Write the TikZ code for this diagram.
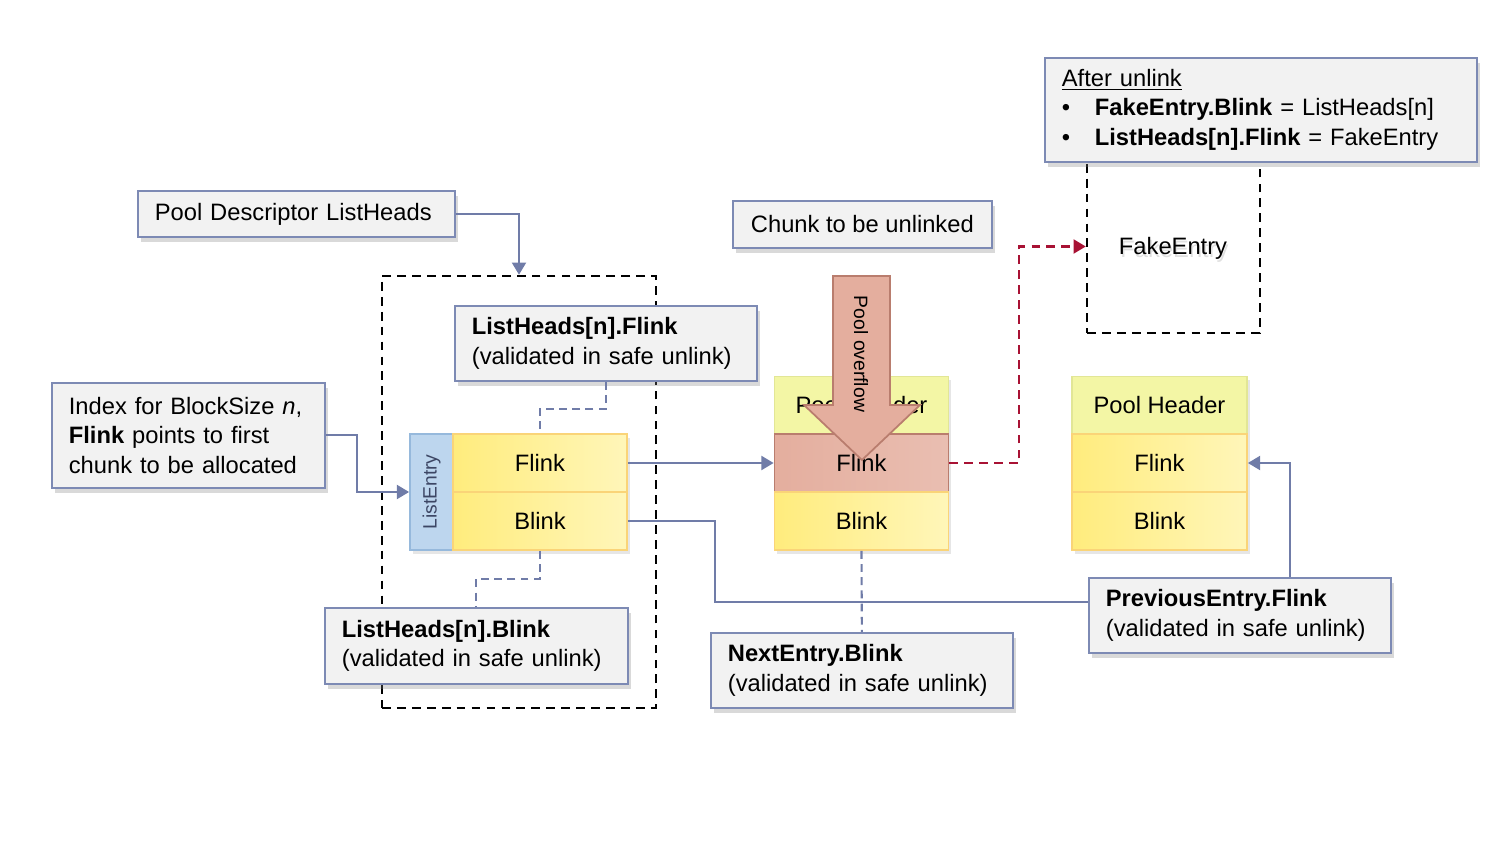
\documentclass[tikz,border=0pt]{standalone}
\usepackage{fontspec}
\setmainfont{Liberation Sans}
\usetikzlibrary{arrows.meta, calc, shadows}
\definecolor{notebg}{RGB}{242,242,242}
\definecolor{notebd}{RGB}{125,138,180}
\definecolor{linkc}{RGB}{112,124,168}
\definecolor{cellA}{RGB}{255,236,125}
\definecolor{cellB}{RGB}{255,246,185}
\definecolor{cellbd}{RGB}{250,212,120}
\definecolor{hdr}{RGB}{243,246,165}
\definecolor{hdrbd}{RGB}{226,230,150}
\definecolor{entrybg}{RGB}{189,214,238}
\definecolor{entrybd}{RGB}{150,185,220}
\definecolor{entrytxt}{RGB}{60,70,100}
\definecolor{ovf}{RGB}{228,174,158}
\definecolor{ovfbd}{RGB}{185,125,110}
\definecolor{redlink}{RGB}{168,18,52}

\begin{document}
\begin{tikzpicture}[x=0.02cm, y=-0.02cm,
    font=\fontsize{13.5}{16.9}\selectfont,
    note/.style={draw=notebd, fill=notebg, line width=1pt, anchor=north west, align=left,
        inner xsep=0.34cm, inner ysep=0pt,
        drop shadow={opacity=0.3, shadow xshift=2pt, shadow yshift=-3pt}},
    cell/.style={draw=cellbd, line width=1pt, left color=cellA, right color=cellB,
        minimum width=3.48cm, minimum height=1.16cm, inner sep=0pt,
        drop shadow={opacity=0.2, shadow xshift=1.5pt, shadow yshift=-2pt}},
    hdrcell/.style={cell, left color=hdr, right color=hdr, draw=hdrbd},
    frame/.style={draw=black, line width=1.4pt, dash pattern=on 5pt off 3.5pt},
    link/.style={draw=linkc, line width=1.2pt},
    dlink/.style={link, dash pattern=on 4.5pt off 3pt},
    tip/.style={-{Triangle[length=7pt,width=8pt]}},
]
    \useasboundingbox (0,0) rectangle (1511,858);

    % ListHeads region
    \node[frame, minimum width=5.48cm, minimum height=8.64cm, inner sep=0pt] (heads) at (519,492) {};

    \node[note, text width=5.66cm, minimum height=0.92cm] (desc) at (137,190) {Pool Descriptor ListHeads};
    \node[note, text width=5.36cm, minimum height=1.5cm] (lhflink) at (454,305) {\textbf{ListHeads[n].Flink}\\(validated in safe unlink)};
    \node[note, text width=4.78cm, minimum height=2.1cm] (index) at (51,382) {Index for BlockSize \textit{n},\\\textbf{Flink} points to first\\chunk to be allocated};
    \node[note, text width=5.38cm, minimum height=1.52cm] (lhblink) at (324,607) {\textbf{ListHeads[n].Blink}\\(validated in safe unlink)};
    \node[note, text width=5.36cm, minimum height=1.5cm] (nextblink) at (710,632) {\textbf{NextEntry.Blink}\\(validated in safe unlink)};
    \node[note, text width=5.36cm, minimum height=1.5cm] (prevflink) at (1088,577) {\textbf{PreviousEntry.Flink}\\(validated in safe unlink)};
    \node[note, minimum width=5.18cm, minimum height=0.94cm] (chunk) at (732,200) {Chunk to be unlinked};

    % list entry
    \node[draw=entrybd, fill=entrybg, line width=1pt, minimum width=0.86cm, minimum height=2.32cm, inner sep=0pt,
        drop shadow={opacity=0.2, shadow xshift=1.5pt, shadow yshift=-2pt}] (entry) at (431.5,492) {};
    \node[rotate=90, text=entrytxt, font=\fontsize{11}{13}\selectfont] at (entry) {ListEntry};
    \node[cell] (lflink) at (540,463) {Flink};
    \node[cell] (lblink) at (540,521) {Blink};

    % chunk to be unlinked
    \node[hdrcell] (phdr) at (861.5,405.5) {Pool Header};
    \node[cell, left color=ovf, right color=ovf!80, draw=ovfbd] (cflink) at (861.5,463) {Flink};
    \node[cell] (cblink) at (861.5,521) {Blink};

    % next chunk
    \node[hdrcell, minimum width=3.5cm] (rphdr) at (1159.5,405.5) {Pool Header};
    \node[cell, minimum width=3.5cm] (rflink) at (1159.5,463) {Flink};
    \node[cell, minimum width=3.5cm] (rblink) at (1159.5,521) {Blink};

    % fake entry
    \node[frame, minimum width=3.46cm, minimum height=3.46cm, inner sep=0pt] (fake) at (1173.5,246.5) {};
    \node[text=black!12] at (1174.5,251) {FakeEntry};
    \node (fakelbl) at (1173,248) {FakeEntry};
    \node[note, text width=7.96cm, minimum height=2.08cm] (after) at (1044,57)
        {\underline{After unlink}\\
         \makebox[0.66cm][l]{\textbullet}\textbf{FakeEntry.Blink} = ListHeads[n]\\
         \makebox[0.66cm][l]{\textbullet}\textbf{ListHeads[n].Flink} = FakeEntry};

    % connectors
    \draw[link, tip] (desc.east) -| (heads.north);
    \draw[link, tip] (index.east) -- ++(31,0) |- (entry.west);
    \draw[dlink] (lhflink.south) -- ++(0,27) -| (lflink.north);
    \draw[dlink] (lblink.south) -- ++(0,28) -| (lhblink.north);
    \draw[link, tip] (lflink.east) -- (cflink.west);
    \draw[link] (lblink.east) -- ++(87,0) |- ($(prevflink.west)+(0,-13)$);
    \draw[link, tip] ($(prevflink.north)+(50,0)$) |- (rflink.east);
    \draw[dlink] (cblink.south) -- (nextblink.north);
    \draw[redlink, line width=1.2pt, dash pattern=on 5pt off 3.5pt, -{Triangle[length=7pt,width=8pt]}]
        (cflink.east) -- ++(70,0) |- (fake.west);

    % pool overflow
    \draw[fill=ovf, draw=ovfbd, line width=1pt] (833,276) -- (890,276) -- (890,405) -- (920,405)
        -- (862,460) -- (804,405) -- (833,405) -- cycle;
    \node[rotate=-90, font=\fontsize{11}{13}\selectfont] (ovftxt) at (861,354) {Pool overflow};

\end{tikzpicture}
\end{document}
